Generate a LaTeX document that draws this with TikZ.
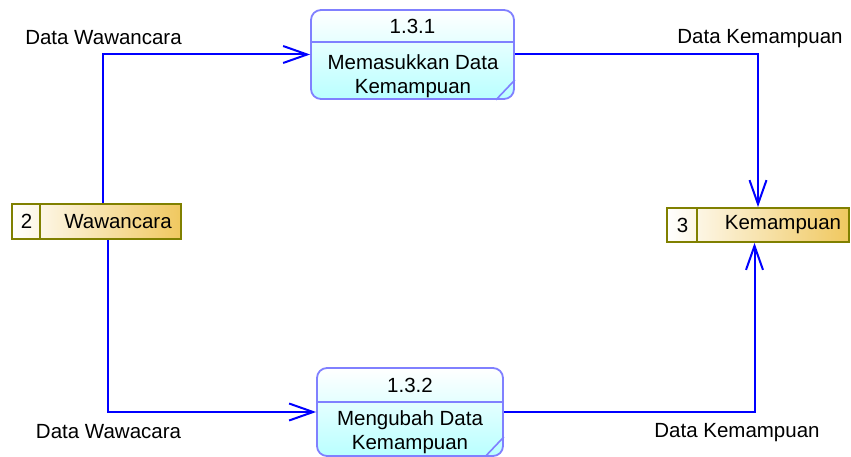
\documentclass[tikz,border=0pt]{standalone}
\usepackage{fontspec}
\setmainfont{Liberation Sans}
\usetikzlibrary{arrows.meta,calc}
\definecolor{flowblue}{RGB}{0,0,255}
\definecolor{procborder}{RGB}{128,128,255}
\definecolor{proccyan}{RGB}{185,255,255}
\definecolor{storeborder}{RGB}{128,128,0}
\definecolor{storegold}{RGB}{240,200,95}
\begin{document}
\begin{tikzpicture}[x=1pt,y=-1pt,
  font=\fontsize{20.5}{24}\selectfont,
  proc/.style={draw=procborder, line width=1.8pt, rounded corners=10pt,
    top color=white, bottom color=proccyan, inner sep=0pt},
  procline/.style={draw=procborder, line width=1.6pt},
  store/.style={draw=storeborder, line width=1.8pt, left color=white,
    right color=storegold, inner sep=0pt},
  storeline/.style={draw=storeborder, line width=1.8pt},
  flow/.style={draw=flowblue, line width=2pt,
    -{Straight Barb[length=24pt,width=17pt]}},
  lbl/.style={anchor=base, inner sep=0pt},
  txt/.style={inner sep=0pt, align=center}]
\useasboundingbox (0,0) rectangle (851,457);

% processes
\node[proc, minimum width=203pt, minimum height=89pt] (p1) at (412.5,54.5) {};
\draw[procline] ([yshift=-33pt]p1.north west) -- ([yshift=-33pt]p1.north east);
\draw[procline] ([xshift=-19pt]p1.south east) -- ([yshift=20pt]p1.south east);
\node[lbl] (p1n) at (412.5,34) {1.3.1};
\node[txt] (p1t) at (413,76.5) {Memasukkan Data\\Kemampuan};

\node[proc, minimum width=186pt, minimum height=88pt] (p2) at (410,412) {};
\draw[procline] ([yshift=-35pt]p2.north west) -- ([yshift=-35pt]p2.north east);
\draw[procline] ([xshift=-19pt]p2.south east) -- ([yshift=20pt]p2.south east);
\node[lbl] (p2n) at (410,392) {1.3.2};
\node[txt] (p2t) at (410,432.5) {Mengubah Data\\Kemampuan};

% stores
\node[store, minimum width=169pt, minimum height=35pt] (s2) at (96.5,221.5) {};
\draw[storeline] ([xshift=29pt]s2.north west) -- ([xshift=29pt]s2.south west);
\node[txt] (s2n) at (26.5,221.5) {2};
\node[txt] (s2t) at (118,221.5) {Wawancara};

\node[store, minimum width=182pt, minimum height=34pt] (s3) at (758,225) {};
\draw[storeline] ([xshift=31pt]s3.north west) -- ([xshift=31pt]s3.south west);
\node[txt] (s3n) at (682.5,225) {3};
\node[txt] (s3t) at (783,225) {Kemampuan};

% flows
\draw[flow] ([xshift=6.5pt]s2.north) |- (p1.west);
\draw[flow] (p1.east) -| (s3.north);
\draw[flow] ([xshift=11.5pt]s2.south) |- (p2.west);
\draw[flow] (p2.east) -| ([xshift=-3.5pt]s3.south);

% labels
\node[lbl] (l1) at (103.5,45) {Data Wawancara};
\node[lbl] (l2) at (760,44) {Data Kemampuan};
\node[lbl] (l3) at (108.5,438) {Data Wawacara};
\node[lbl] (l4) at (737,437) {Data Kemampuan};
\end{tikzpicture}
\end{document}
